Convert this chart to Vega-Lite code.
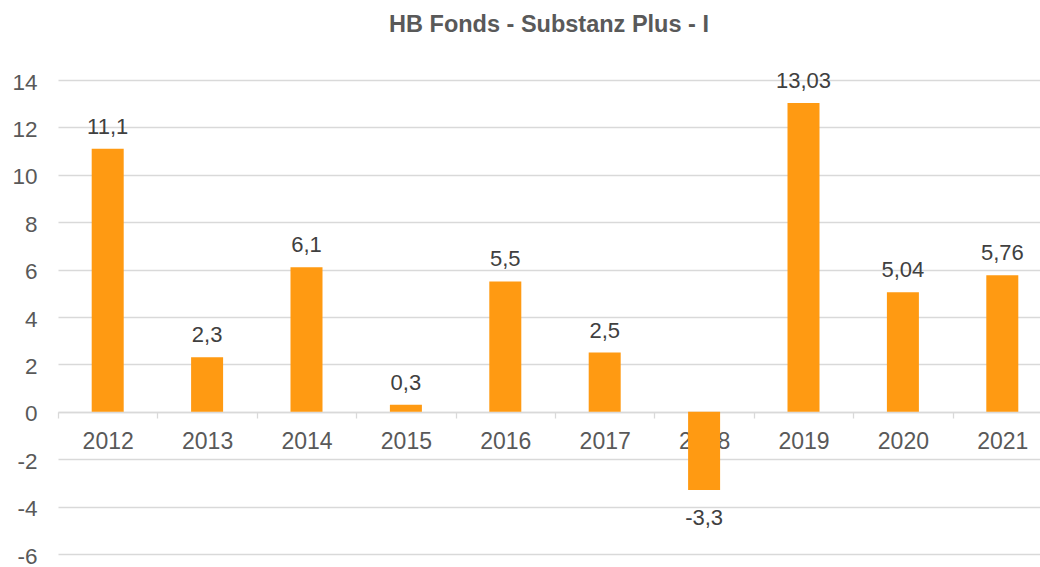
{
  "$schema": "https://vega.github.io/schema/vega-lite/v6.json",
  "autosize": {"type": "none"},
  "padding": {"left": 58, "top": 80, "right": 0, "bottom": 13},
  "width": 982,
  "height": 474,
  "background": "white",
  "config": {
    "view": {"stroke": null},
    "font": "Liberation Sans",
    "locale": {"number": {"decimal": ",", "thousands": ".", "grouping": [3], "currency": ["", " €"], "minus": "-"}}
  },
  "title": {
    "text": "HB Fonds - Substanz Plus - I",
    "font": "Liberation Sans",
    "fontSize": 23.5,
    "fontWeight": "bold",
    "color": "#595959",
    "anchor": "middle",
    "frame": "group",
    "offset": 33
  },
  "data": {
    "values": [
      {"year": "2012", "value": 11.1},
      {"year": "2013", "value": 2.3},
      {"year": "2014", "value": 6.1},
      {"year": "2015", "value": 0.3},
      {"year": "2016", "value": 5.5},
      {"year": "2017", "value": 2.5},
      {"year": "2018", "value": -3.3},
      {"year": "2019", "value": 13.03},
      {"year": "2020", "value": 5.04},
      {"year": "2021", "value": 5.76}
    ]
  },
  "encoding": {
    "x": {
      "field": "year",
      "type": "nominal",
      "sort": null,
      "scale": {"range": [0, 994], "paddingInner": 0, "paddingOuter": 0},
      "axis": {
        "title": null,
        "labelAngle": 0,
        "labelFont": "Liberation Sans",
        "labelFontSize": 23,
        "labelColor": "#595959",
        "labelBaseline": "alphabetic",
        "labelPadding": 30,
        "tickBand": "extent",
        "tickSize": 6,
        "tickColor": "#D9D9D9",
        "tickWidth": 1.3,
        "domainColor": "#D9D9D9",
        "domainWidth": 1.5,
        "offset": -142,
        "grid": false,
        "zindex": 0
      }
    },
    "y": {
      "field": "value",
      "type": "quantitative",
      "scale": {"domain": [-6, 14], "nice": false, "zero": false},
      "axis": {
        "title": null,
        "values": [-6, -4, -2, 0, 2, 4, 6, 8, 10, 12, 14],
        "labelFont": "Liberation Sans",
        "labelFontSize": 22.5,
        "labelColor": "#595959",
        "labelPadding": 21,
        "labelOffset": 2,
        "ticks": false,
        "domain": false,
        "grid": true,
        "gridColor": "#D9D9D9",
        "gridWidth": 1.3
      }
    }
  },
  "layer": [
    {
      "mark": {"type": "bar", "width": 32, "color": "#FF9A12"}
    },
    {
      "transform": [{"filter": "datum.value >= 0"}],
      "mark": {"type": "text", "baseline": "alphabetic", "dy": -15, "fontSize": 22, "font": "Liberation Sans", "color": "#404040"},
      "encoding": {"text": {"field": "value", "type": "quantitative", "format": "~r"}}
    },
    {
      "transform": [{"filter": "datum.value < 0"}],
      "mark": {"type": "text", "baseline": "alphabetic", "dy": 35, "fontSize": 22, "font": "Liberation Sans", "color": "#404040"},
      "encoding": {"text": {"field": "value", "type": "quantitative", "format": "~r"}}
    }
  ]
}
